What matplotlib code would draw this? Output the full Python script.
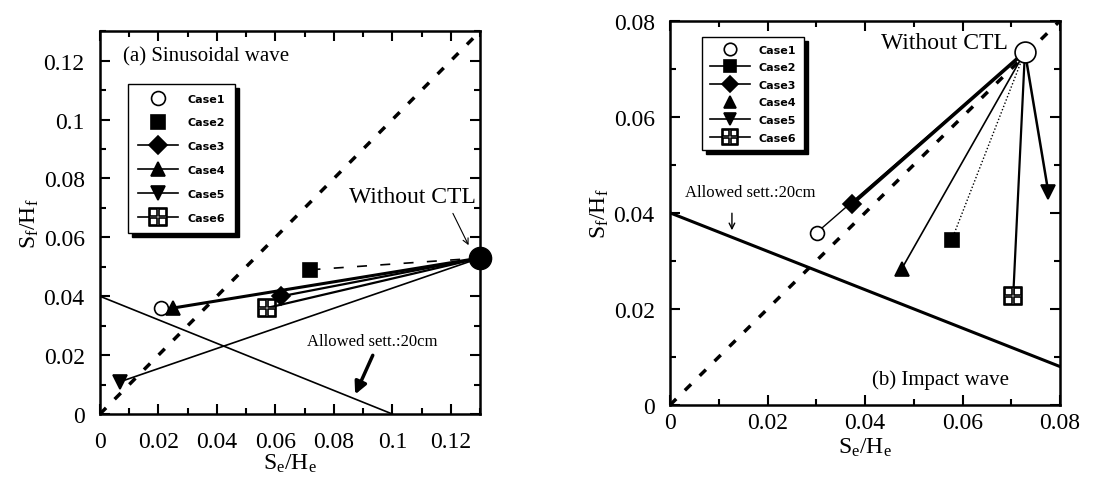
import matplotlib
matplotlib.use("Agg")
import matplotlib.pyplot as plt
from matplotlib.ticker import MultipleLocator, FixedLocator

SERIF = ["Liberation Serif", "DejaVu Serif"]
plt.rcParams['font.family'] = SERIF
plt.rcParams['mathtext.fontset'] = 'custom'
plt.rcParams['mathtext.rm'] = 'Liberation Serif'
plt.rcParams['mathtext.it'] = 'Liberation Serif'

case_labels = ["Case1", "Case2", "Case3", "Case4", "Case5", "Case6"]

# Panel (a) sinusoidal wave
ctl_a_x, ctl_a_y = 0.13, 0.053
case_a_x = [0.021, 0.072, 0.062, 0.025, 0.007, 0.057]
case_a_y = [0.036, 0.049, 0.040, 0.036, 0.011, 0.036]

# Panel (b) impact wave
ctl_b_x, ctl_b_y = 0.0728, 0.0735
case_b_x = [0.0301, 0.0578, 0.0373, 0.0475, 0.0776, 0.0704]
case_b_y = [0.0359, 0.0344, 0.0418, 0.0283, 0.0443, 0.0227]

# reference lines
allowed_x = [0.0, 0.1]
allowed_y = [0.04, 0.0]
diag_a = [0.0, 0.13]
diag_b = [0.0, 0.08]

ticks_a = [0, 0.02, 0.04, 0.06, 0.08, 0.1, 0.12]
ticklabels_a = ["0", "0.02", "0.04", "0.06", "0.08", "0.1", "0.12"]
ticks_b = [0, 0.02, 0.04, 0.06, 0.08]
ticklabels_b = ["0", "0.02", "0.04", "0.06", "0.08"]

markers = ['o', 's', 'D', '^', 'v', r'$\boxplus$']
faces = ['white', 'black', 'black', 'black', 'black', 'white']
msizes = [10, 10, 9, 10, 10, 13]

fig = plt.figure(figsize=(11.13, 4.85), dpi=100)
axA = fig.add_axes([0.0898, 0.1443, 0.3415, 0.7891])
axB = fig.add_axes([0.602, 0.1629, 0.3504, 0.7924])


def style_axis(ax, lim, ticks, labels, xpad, ypad):
    ax.set_xlim(0, lim)
    ax.set_ylim(0, lim)
    ax.xaxis.set_major_locator(FixedLocator(ticks))
    ax.yaxis.set_major_locator(FixedLocator(ticks))
    ax.set_xticklabels(labels)
    ax.set_yticklabels(labels)
    ax.xaxis.set_minor_locator(MultipleLocator(0.01))
    ax.yaxis.set_minor_locator(MultipleLocator(0.01))
    ax.tick_params(which='both', direction='in', top=True, right=True,
                   labelsize=17, width=1.5)
    ax.tick_params(which='major', length=7)
    ax.tick_params(which='minor', length=4)
    ax.tick_params(axis='x', which='major', pad=xpad)
    ax.tick_params(axis='y', which='major', pad=ypad)
    for s in ax.spines.values():
        s.set_linewidth(1.8)


# ---------- Panel (a) ----------
ax = axA
style_axis(ax, 0.13, ticks_a, ticklabels_a, xpad=12, ypad=11)
ax.plot(diag_a, diag_a, color='black', lw=2.5, ls=(0, (2.5, 3.5)), zorder=2)
ax.plot(allowed_x, allowed_y, color='black', lw=1.2, zorder=2)

line_a = [dict(lw=0), dict(lw=1.2, ls=(0, (6, 8))), dict(lw=1.6), dict(lw=2.2),
          dict(lw=1.2), dict(lw=1.6)]
handles_a = []
for i in range(6):
    kw = line_a[i]
    if kw.get('lw', 1) > 0:
        ax.plot([case_a_x[i], ctl_a_x], [case_a_y[i], ctl_a_y], color='black',
                zorder=3, **kw)
    ax.plot([case_a_x[i]], [case_a_y[i]], marker=markers[i], ms=msizes[i],
            mfc=faces[i], mec='black', mew=1.2, ls='none', zorder=4)
    leg_lw = 0 if i < 2 else 1.2
    h, = ax.plot([], [], marker=markers[i], ms=msizes[i], mfc=faces[i], mec='black',
                 mew=1.2, color='black', lw=leg_lw, label=case_labels[i])
    handles_a.append(h)
ax.plot([ctl_a_x], [ctl_a_y], 'o', ms=16, color='black', zorder=5, clip_on=False)

leg = ax.legend(handles=handles_a, loc='upper left', bbox_to_anchor=(0.06, 0.878),
                handlelength=3.6, frameon=True, fancybox=False,
                edgecolor='black', borderpad=0.9, labelspacing=1.25,
                prop={'family': 'DejaVu Sans', 'size': 8, 'weight': 'bold'},
                shadow={'ox': 3, 'oy': -3, 'color': 'black', 'alpha': 1})
leg.get_frame().set_linewidth(1.0)
leg.set_zorder(6)

ax.text(0.0078, 0.1218, "(a) Sinusoidal wave", fontsize=15, va='center', ha='left')
ax.text(0.0852, 0.0738, "Without CTL", fontsize=17, va='center', ha='left')
ax.annotate("", xy=(0.1265, 0.0565), xytext=(0.1203, 0.0690),
            arrowprops=dict(arrowstyle='->', color='black', lw=0.8))
ax.text(0.0709, 0.0248, "Allowed sett.:20cm", fontsize=12, va='center', ha='left')
ax.annotate("", xy=(0.0869, 0.0058), xytext=(0.0937, 0.0208),
            arrowprops=dict(arrowstyle='-|>', color='black', lw=2.5,
                            mutation_scale=18))
ax.set_xlabel(r"S$_e$/H$_e$", fontsize=17, labelpad=0)
ax.set_ylabel(r"S$_f$/H$_f$", fontsize=17, labelpad=2)

# ---------- Panel (b) ----------
ax = axB
style_axis(ax, 0.08, ticks_b, ticklabels_b, xpad=5, ypad=11)
ax.plot(diag_b, diag_b, color='black', lw=2.5, ls=(0, (2.5, 3.5)), zorder=2)
ax.plot(allowed_x, allowed_y, color='black', lw=2.2, zorder=2)

line_b = [dict(lw=1.0), dict(lw=1.0, ls=(0, (1, 1.5))), dict(lw=2.6), dict(lw=1.2),
          dict(lw=1.8), dict(lw=1.6)]
leg_line_b = [0, 1.2, 1.2, 0, 1.2, 1.2]
leg_ms_b = [9, 9, 8, 9, 9, 12]
handles_b = []
for i in range(6):
    ax.plot([case_b_x[i], ctl_b_x], [case_b_y[i], ctl_b_y], color='black',
            zorder=3, **line_b[i])
    ax.plot([case_b_x[i]], [case_b_y[i]], marker=markers[i], ms=msizes[i],
            mfc=faces[i], mec='black', mew=1.2, ls='none', zorder=4)
    h, = ax.plot([], [], marker=markers[i], ms=leg_ms_b[i], mfc=faces[i], mec='black',
                 mew=1.2, color='black', lw=leg_line_b[i], label=case_labels[i])
    handles_b.append(h)
ax.plot([ctl_b_x], [ctl_b_y], 'o', ms=15, mfc='white', mec='black', mew=1.2,
        zorder=5, clip_on=False)

leg = ax.legend(handles=handles_b, loc='upper left', bbox_to_anchor=(0.068, 0.972),
                handlelength=3.6, frameon=True, fancybox=False,
                edgecolor='black', borderpad=0.7, labelspacing=0.68,
                prop={'family': 'DejaVu Sans', 'size': 8, 'weight': 'bold'},
                shadow={'ox': 3, 'oy': -3, 'color': 'black', 'alpha': 1})
leg.get_frame().set_linewidth(1.0)
leg.set_zorder(6)

ax.text(0.0693, 0.0755, "Without CTL", fontsize=17, va='center', ha='right')
ax.text(0.0031, 0.0443, "Allowed sett.:20cm", fontsize=12, va='center', ha='left')
ax.annotate("", xy=(0.0127, 0.0358), xytext=(0.0127, 0.0405),
            arrowprops=dict(arrowstyle='->', color='black', lw=1.0))
ax.text(0.0414, 0.0054, "(b) Impact wave", fontsize=15, va='center', ha='left')
ax.set_xlabel(r"S$_e$/H$_e$", fontsize=17, labelpad=2)
ax.set_ylabel(r"S$_f$/H$_f$", fontsize=17, labelpad=2)

fig.savefig("out.png", dpi=100)
